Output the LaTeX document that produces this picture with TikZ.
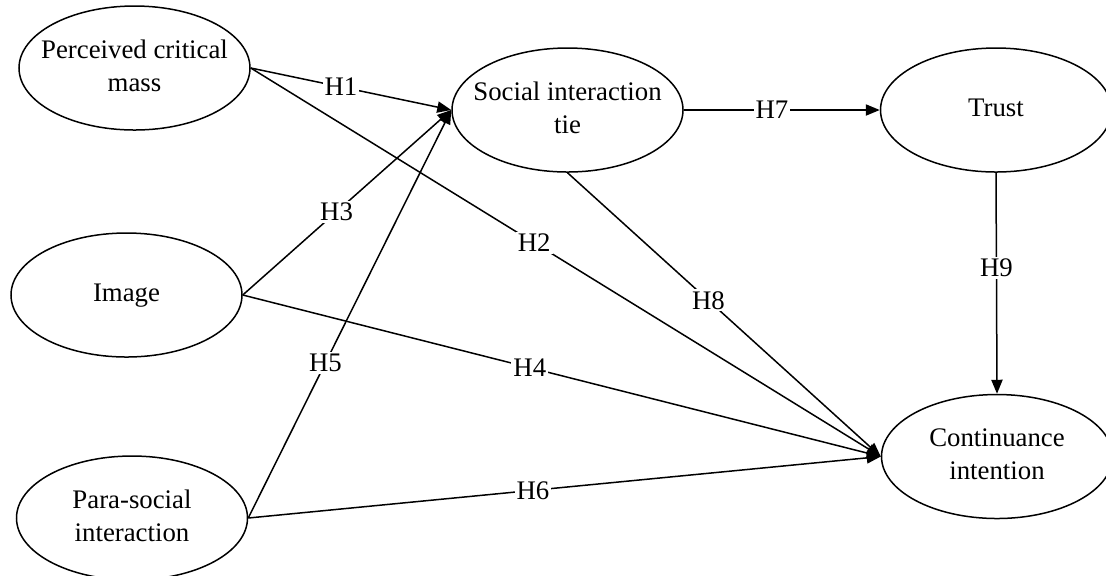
\documentclass[tikz,border=0pt]{standalone}
\usepackage{fontspec}
\setmainfont{Liberation Serif}
\usetikzlibrary{shapes.geometric,arrows.meta}
\newcommand{\lvtext}[1]{\makebox[0pt]{\begin{tabular}{@{}c@{}}#1\end{tabular}}}
\begin{document}
\begin{tikzpicture}[x=0.5pt, y=-0.5pt, line width=0.75pt,
    every node/.style={font=\fontsize{13.4}{16.5}\selectfont},
    latent/.style={ellipse, draw, minimum width=115.5pt, minimum height=62pt, inner sep=0pt},
    hyp/.style={-{Triangle[length=7pt,width=5.6pt]}},
    hlabel/.style={fill=white, inner sep=1pt}]
  \useasboundingbox (0,0) rectangle (1106,575);

  \node[latent] (pcm) at (134.5,68) {\lvtext{Perceived critical\\mass}};
  \node[latent] (img) at (126.5,295) {\lvtext{Image}};
  \node[latent] (psi) at (132,518) {\lvtext{Para-social\\interaction}};
  \node[latent] (sit) at (567.5,110) {\lvtext{Social interaction\\tie}};
  \node[latent] (trust) at (996,110) {\lvtext{Trust}};
  \node[latent] (ci) at (997,456.5) {\lvtext{Continuance\\intention}};

  \draw[hyp] (pcm.east) -- node[hlabel, pos=0.45] (h1) {H1} (sit.west);
  \draw[hyp] (pcm.east) -- node[hlabel, pos=0.45] (h2) {H2} (ci.west);
  \draw[hyp] (img.east) -- node[hlabel, pos=0.45] (h3) {H3} (sit.west);
  \draw[hyp] (img.east) -- node[hlabel, pos=0.45] (h4) {H4} (ci.west);
  \draw[hyp] (psi.east) -- node[hlabel, pos=0.38] (h5) {H5} (sit.west);
  \draw[hyp] (psi.east) -- node[hlabel, pos=0.45] (h6) {H6} (ci.west);
  \draw[hyp] (sit.east) -- node[hlabel, pos=0.45] (h7) {H7} (trust.west);
  \draw[hyp] (sit.south) -- node[hlabel, pos=0.45] (h8) {H8} (ci.west);
  \draw[hyp] (trust.south) -- node[hlabel, pos=0.43] (h9) {H9} (ci.north);
\end{tikzpicture}
\end{document}
